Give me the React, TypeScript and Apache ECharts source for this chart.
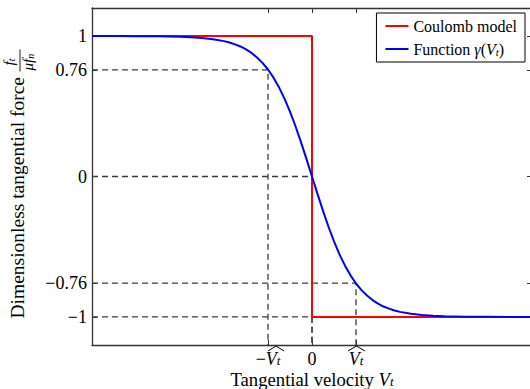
import React, { useEffect, useRef } from "react";
import * as echarts from "echarts";

// Blue curve: Function gamma(V_t)
const velocity = [
  -5, -4.5, -4, -3.5, -3, -2.75, -2.5, -2.25, -2, -1.875, -1.75, -1.625, -1.5, -1.375, -1.25, -1.125, -1,
  -0.875, -0.75, -0.625, -0.5, -0.375, -0.25, -0.125, 0, 0.125, 0.25, 0.375, 0.5, 0.625,
  0.75, 0.875, 1, 1.125, 1.25, 1.375, 1.5, 1.625, 1.75, 1.875, 2, 2.25, 2.5, 2.75, 3, 3.5, 4, 4.5, 5,
];
const gammaValues = [
  1.0, 1.0, 0.999, 0.998, 0.995, 0.992, 0.987, 0.978, 0.964, 0.954, 0.941, 0.926, 0.905, 0.88, 0.848, 0.809, 0.762,
  0.704, 0.635, 0.555, 0.462, 0.358, 0.245, 0.124, 0, -0.124, -0.245, -0.358, -0.462, -0.555,
  -0.635, -0.704, -0.762, -0.809, -0.848, -0.88, -0.905, -0.926, -0.941, -0.954, -0.964, -0.978, -0.987,
  -0.992, -0.995, -0.998, -0.999, -1.0, -1.0,
];

// Red step: Coulomb model
const coulombVelocity = [-5, 0, 0, 5];
const coulombForce = [1, 1, -1, -1];

// Axes
const xMin = -5;
const xMax = 5;
const yMin = -1.2;
const yMax = 1.2;
const xTickValues = [-1, 0, 1];
const yTickValues = [-1, -0.76, 0, 0.76, 1];
const yTickLabels = ["−1", "−0.76", "0", "0.76", "1"];

// Dashed guides: level and the velocity where each ends
const guideLevels = [0.76, 0, -0.76, -1];
const guideVelocities = [-1, 0, 1, 0];

const seriesNames = ["Coulomb model", "Function γ(V_t)"];

const FONT = "Liberation Serif";

export default function App() {
  const ref = useRef<HTMLDivElement>(null);

  useEffect(() => {
    if (!ref.current) return;
    const chart = echarts.init(ref.current, null, { renderer: "svg" });

    const guideSeries = guideLevels.map((lvl, i) => ({
      type: "line",
      silent: true,
      symbol: "none",
      data: [
        [xMin, lvl],
        [guideVelocities[i], lvl],
        [guideVelocities[i], yMin],
      ],
      lineStyle: { color: "#3a3a3a", width: 1.3, type: [6, 4] },
      z: 1,
    }));

    const mkRich = (lh: number, fs: number) => ({
      n: { fontFamily: FONT, fontSize: fs, color: "#000", lineHeight: lh },
      m: { fontFamily: FONT, fontSize: fs, color: "#000", lineHeight: lh },
      v: { fontFamily: FONT, fontSize: fs, fontStyle: "italic", color: "#000", lineHeight: lh },
      s: {
        fontFamily: FONT,
        fontSize: 13,
        fontStyle: "italic",
        color: "#000",
        lineHeight: 12,
        verticalAlign: "bottom",
      },
    });

    const option: any = {
      animation: false,
      backgroundColor: "#fff",
      grid: { left: 92, right: -2, top: 8, bottom: 44, outerBoundsMode: "none", containLabel: false },
      legend: {
        orient: "vertical",
        right: 5,
        top: 13,
        padding: [5, 8, 5, 9],
        itemGap: 7,
        itemWidth: 23,
        itemHeight: 2,
        itemTextGap: 16,
        icon: "rect",
        backgroundColor: "#fff",
        borderColor: "#000",
        borderWidth: 1,
        borderRadius: 0,
        data: seriesNames,
        formatter: (name: string) =>
          name === seriesNames[0]
            ? "{n|Coulomb model}"
            : "{n|Function }{g|γ}{n|(}{i|V}{s|t}{n|)}",
        textStyle: {
          fontFamily: FONT,
          fontSize: 16,
          color: "#000",
          lineHeight: 16,
          rich: {
            n: { fontFamily: FONT, fontSize: 16, color: "#000", lineHeight: 16 },
            g: { fontFamily: FONT, fontSize: 16, fontStyle: "italic", color: "#000", lineHeight: 16 },
            i: { fontFamily: FONT, fontSize: 16, fontStyle: "italic", color: "#000", lineHeight: 16 },
            s: {
              fontFamily: FONT,
              fontSize: 11,
              fontStyle: "italic",
              color: "#000",
              lineHeight: 11,
              verticalAlign: "bottom",
            },
          },
        },
      },
      xAxis: [
        {
          type: "value",
          min: xMin,
          max: xMax,
          position: "bottom",
          axisLine: { show: true, onZero: false, lineStyle: { color: "#333", width: 1.3 } },
          axisTick: {
            show: true,
            inside: true,
            length: 5,
            customValues: xTickValues,
            lineStyle: { color: "#333", width: 1 },
          },
          axisLabel: {
            show: true,
            margin: 6,
            customValues: xTickValues,
            formatter: (v: number) =>
              v < 0 ? "{m|−}{v|V}{s|t}" : v > 0 ? "{v|V}{s|t}" : "{n|0}",
            rich: mkRich(16, 18),
          },
          splitLine: { show: false },
          name: "{n|Tangential velocity }{v|V}{s|t}",
          nameLocation: "middle",
          nameGap: 26,
          nameMoveOverlap: false,
          nameTextStyle: { rich: mkRich(17, 18.7), verticalAlign: "top", lineHeight: 17 },
        },
        {
          type: "value",
          min: xMin,
          max: xMax,
          position: "top",
          axisLine: { show: true, onZero: false, lineStyle: { color: "#333", width: 1.3 } },
          axisTick: {
            show: true,
            inside: true,
            length: 5,
            customValues: xTickValues,
            lineStyle: { color: "#333", width: 1 },
          },
          axisLabel: { show: false },
          splitLine: { show: false },
        },
      ],
      yAxis: [
        {
          type: "value",
          min: yMin,
          max: yMax,
          position: "left",
          axisLine: { show: true, onZero: false, lineStyle: { color: "#333", width: 1.3 } },
          axisTick: {
            show: true,
            inside: true,
            length: 5,
            customValues: yTickValues,
            lineStyle: { color: "#333", width: 1 },
          },
          axisLabel: {
            show: true,
            margin: 5,
            customValues: yTickValues,
            formatter: (v: number) => {
              const idx = yTickValues.findIndex((t) => Math.abs(t - v) < 1e-9);
              return idx >= 0 ? yTickLabels[idx] : "";
            },
            fontFamily: FONT,
            fontSize: 18,
            color: "#000",
          },
          splitLine: { show: false },
        },
        {
          type: "value",
          min: yMin,
          max: yMax,
          position: "right",
          axisLine: { show: true, onZero: false, lineStyle: { color: "#333", width: 1.3 } },
          axisTick: {
            show: true,
            inside: true,
            length: 5,
            customValues: yTickValues,
            lineStyle: { color: "#333", width: 1 },
          },
          axisLabel: { show: false },
          splitLine: { show: false },
        },
      ],
      series: [
        ...guideSeries,
        {
          name: seriesNames[0],
          type: "line",
          symbol: "none",
          data: coulombVelocity.map((x, i) => [x, coulombForce[i]]),
          lineStyle: { color: "#ff0000", width: 2 },
          itemStyle: { color: "#ff0000" },
          z: 2,
        },
        {
          name: seriesNames[1],
          type: "line",
          symbol: "none",
          smooth: false,
          data: velocity.map((x, i) => [x, gammaValues[i]]),
          lineStyle: { color: "#0000ff", width: 2 },
          itemStyle: { color: "#0000ff" },
          z: 3,
        },
      ],
    };

    chart.setOption(option);

    // Hats over V_t tick labels, placed through the axis scale
    const axisY = chart.convertToPixel({ yAxisIndex: 0 }, yMin) as number;
    const hatFor = (v: number, dx0: number, dx1: number) => {
      const px = chart.convertToPixel({ xAxisIndex: 0 }, v) as number;
      return {
        type: "polyline",
        silent: true,
        shape: {
          points: [
            [px + dx0, axisY + 6],
            [px + (dx0 + dx1) / 2, axisY + 1],
            [px + dx1, axisY + 6],
          ],
        },
        style: { stroke: "#000", lineWidth: 1, fill: "none" },
        z: 10,
      };
    };

    const axisCenterY =
      ((chart.convertToPixel({ yAxisIndex: 0 }, yMin) as number) +
        (chart.convertToPixel({ yAxisIndex: 0 }, yMax) as number)) /
      2;

    const fracRich = {
      i: { fontFamily: FONT, fontSize: 15, fontStyle: "italic", fill: "#000", lineHeight: 15 },
      s: {
        fontFamily: FONT,
        fontSize: 10,
        fontStyle: "italic",
        fill: "#000",
        lineHeight: 10,
        verticalAlign: "bottom",
      },
    };

    chart.setOption({
      graphic: [
        hatFor(-1, 0, 16),
        hatFor(1, -8, 9),
        {
          type: "group",
          x: 17,
          y: axisCenterY + 8,
          rotation: Math.PI / 2,
          silent: true,
          children: [
            {
              type: "text",
              x: -134,
              y: 0,
              style: {
                text: "Dimensionless tangential force",
                fontFamily: FONT,
                fontSize: 19.5,
                fill: "#000",
                align: "left",
                verticalAlign: "middle",
              },
            },
            {
              type: "text",
              x: 119,
              y: -8,
              style: {
                text: "{i|f}{s|t}",
                align: "left",
                verticalAlign: "middle",
                rich: fracRich,
              },
            },
            {
              type: "line",
              shape: { x1: 113, y1: 3, x2: 135, y2: 3 },
              style: { stroke: "#000", lineWidth: 0.9 },
            },
            {
              type: "text",
              x: 114,
              y: 11,
              style: {
                text: "{i|μf}{s|n}",
                align: "left",
                verticalAlign: "middle",
                rich: fracRich,
              },
            },
          ],
        },
      ],
    });

    return () => chart.dispose();
  }, []);

  return (
    <div
      ref={ref}
      style={{ width: 530, height: 389, position: "absolute", left: 0, top: 0, background: "#fff" }}
    />
  );
}
